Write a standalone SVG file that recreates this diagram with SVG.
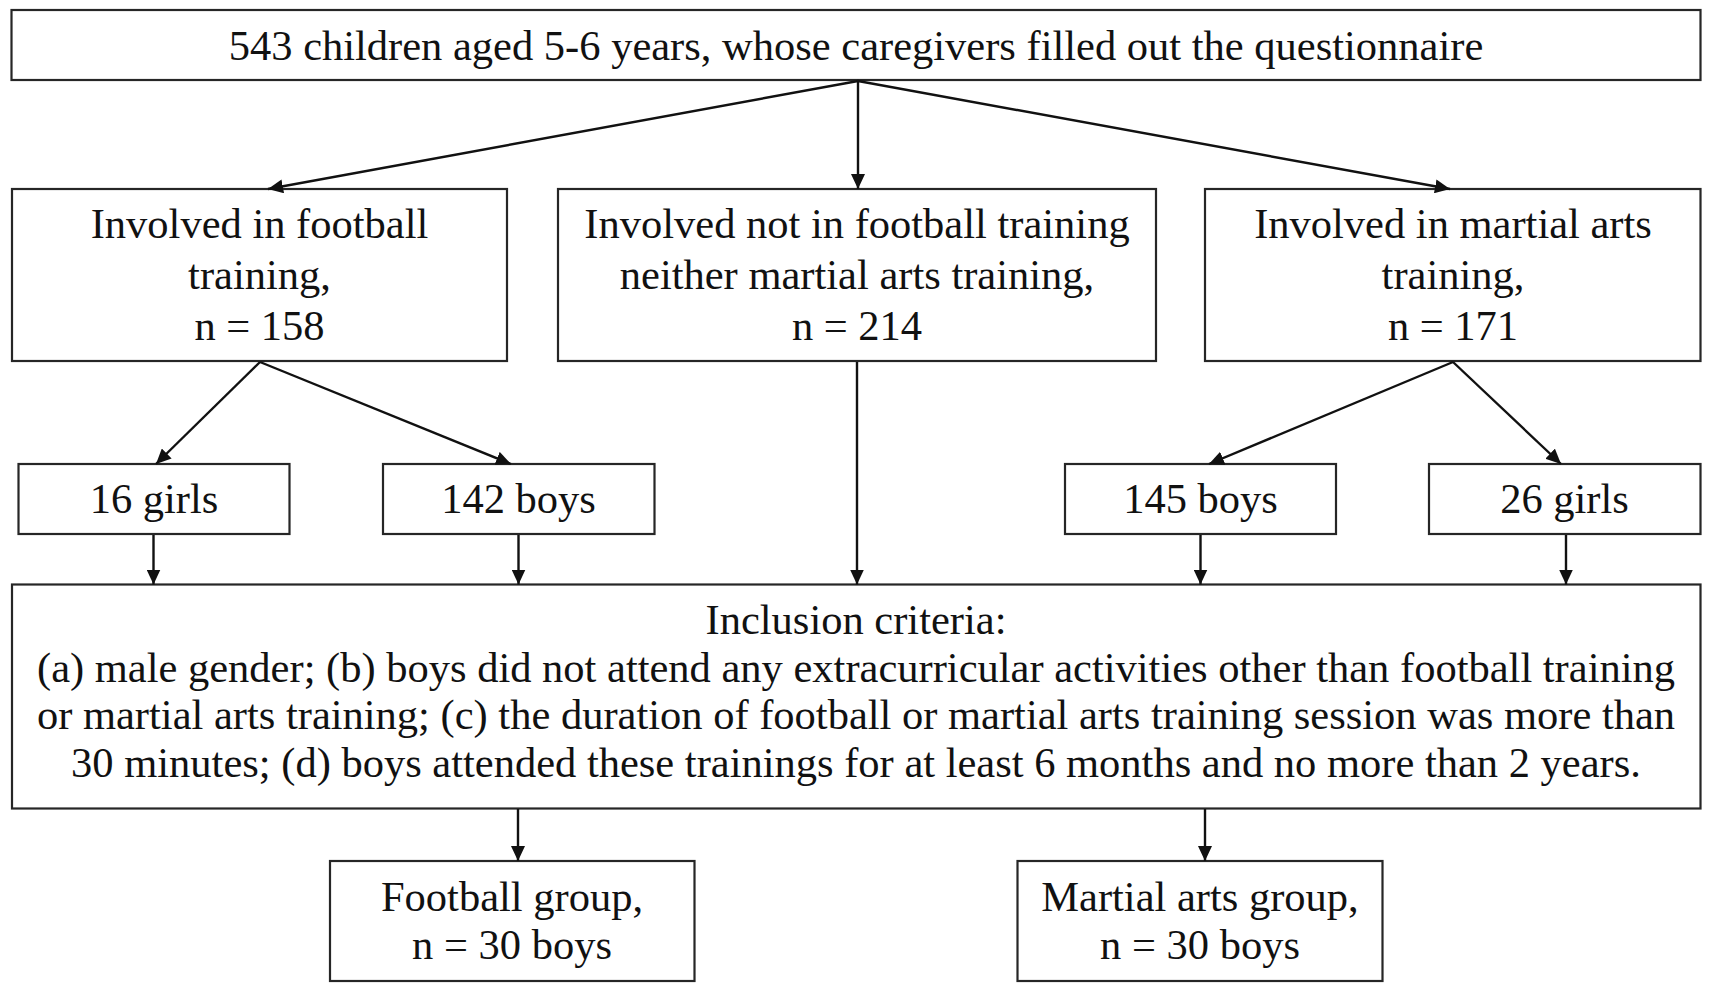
<svg xmlns="http://www.w3.org/2000/svg" width="1713" height="994" viewBox="0 0 1713 994">
<style>
  .box { fill: #ffffff; stroke: #262626; stroke-width: 2.2; }
  .t { font-family: "Liberation Serif", "Times New Roman", serif; font-size: 42.5px; fill: #111111; text-anchor: middle; }
  .conn line { stroke: #111111; stroke-width: 2.4; marker-end: url(#arrow); }
</style>
<defs>
  <marker id="arrow" markerUnits="userSpaceOnUse" markerWidth="15" markerHeight="14" refX="15" refY="7" orient="auto">
    <path d="M0,0 L15,7 L0,14 z" fill="#111111"/>
  </marker>
</defs>
<rect width="1713" height="994" fill="#ffffff"/>

<g id="top">
  <rect class="box" x="11.5" y="10" width="1689" height="70"/>
  <text class="t" x="856" y="60">543 children aged 5-6 years, whose caregivers filled out the questionnaire</text>
</g>

<g id="football">
  <rect class="box" x="12" y="189" width="495" height="172"/>
  <text class="t" x="259.5" y="238">Involved in football</text>
  <text class="t" x="259.5" y="289">training,</text>
  <text class="t" x="259.5" y="340">n = 158</text>
</g>

<g id="none">
  <rect class="box" x="558" y="189" width="598" height="172"/>
  <text class="t" x="857" y="238">Involved not in football training</text>
  <text class="t" x="857" y="289">neither martial arts training,</text>
  <text class="t" x="857" y="340">n = 214</text>
</g>

<g id="martial">
  <rect class="box" x="1205" y="189" width="495.5" height="172"/>
  <text class="t" x="1453" y="238">Involved in martial arts</text>
  <text class="t" x="1453" y="289">training,</text>
  <text class="t" x="1453" y="340">n = 171</text>
</g>

<g id="girls16">
  <rect class="box" x="18.5" y="464" width="271" height="70"/>
  <text class="t" x="154" y="513">16 girls</text>
</g>

<g id="boys142">
  <rect class="box" x="383" y="464" width="271.5" height="70"/>
  <text class="t" x="518.5" y="513">142 boys</text>
</g>

<g id="boys145">
  <rect class="box" x="1065" y="464" width="271" height="70"/>
  <text class="t" x="1200.5" y="513">145 boys</text>
</g>

<g id="girls26">
  <rect class="box" x="1429" y="464" width="271.5" height="70"/>
  <text class="t" x="1564.5" y="513">26 girls</text>
</g>

<g id="inclusion">
  <rect class="box" x="12" y="584.5" width="1688.5" height="224"/>
  <text class="t" x="856" y="634">Inclusion criteria:</text>
  <text class="t" x="856" y="682">(a) male gender; (b) boys did not attend any extracurricular activities other than football training</text>
  <text class="t" x="856" y="729">or martial arts training; (c) the duration of football or martial arts training session was more than</text>
  <text class="t" x="856" y="777">30 minutes; (d) boys attended these trainings for at least 6 months and no more than 2 years.</text>
</g>

<g id="football_group">
  <rect class="box" x="330" y="861" width="364.5" height="120"/>
  <text class="t" x="512" y="911">Football group,</text>
  <text class="t" x="512" y="959">n = 30 boys</text>
</g>

<g id="martial_group">
  <rect class="box" x="1017.5" y="861" width="365" height="120"/>
  <text class="t" x="1200" y="911">Martial arts group,</text>
  <text class="t" x="1200" y="959">n = 30 boys</text>
</g>

<g id="connectors" class="conn">
  <line x1="858" y1="81" x2="268" y2="189"/>
  <line x1="858" y1="81" x2="858" y2="189"/>
  <line x1="858" y1="81" x2="1450" y2="189"/>
  <line x1="260" y1="362" x2="156" y2="464"/>
  <line x1="260" y1="362" x2="511" y2="464"/>
  <line x1="1453" y1="362" x2="1209" y2="464"/>
  <line x1="1453" y1="362" x2="1561" y2="464"/>
  <line x1="153.5" y1="535" x2="153.5" y2="584.5"/>
  <line x1="518.5" y1="535" x2="518.5" y2="584.5"/>
  <line x1="857" y1="362" x2="857" y2="584.5"/>
  <line x1="1200.5" y1="535" x2="1200.5" y2="584.5"/>
  <line x1="1566" y1="535" x2="1566" y2="584.5"/>
  <line x1="518" y1="809" x2="518" y2="861"/>
  <line x1="1205" y1="809" x2="1205" y2="861"/>
</g>
</svg>
